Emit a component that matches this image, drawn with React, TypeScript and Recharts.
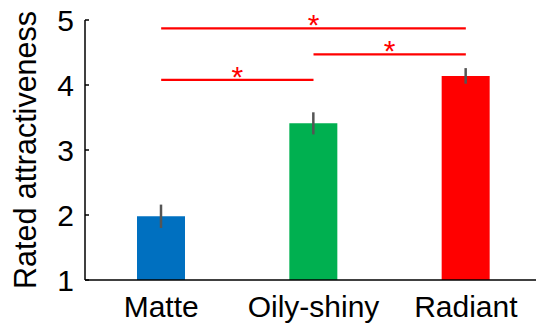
import { BarChart, Bar, XAxis, YAxis, Cell, ErrorBar, ReferenceLine } from 'recharts'

// Rated attractiveness per skin type, MATLAB-style bar plot
const categories = ['Matte', 'Oily-shiny', 'Radiant']
const means = [1.98, 3.41, 4.14]
const errors = [0.18, 0.17, 0.12]
const colors = ['#0070c0', '#00b050', '#ff0000']
const yTicks = [1, 2, 3, 4, 5]

// significance brackets: [from, to, height]
const brackets: Array<[string, string, number]> = [
  ['Matte', 'Radiant', 4.87],
  ['Oily-shiny', 'Radiant', 4.47],
  ['Matte', 'Oily-shiny', 4.08],
]

const data = categories.map((name, i) => ({ name, mean: means[i], err: errors[i] }))

const FONT = '"Liberation Sans", Arial, Helvetica, sans-serif'

export default function App() {
  return (
    <div style={{ position: 'absolute', left: 0, top: 0, width: 536, height: 326, overflow: 'hidden', background: '#fff' }}>
      <BarChart width={542} height={326} data={data} margin={{ top: 20, right: 0, bottom: 0, left: 0 }}>
        <XAxis
          dataKey="name"
          height={46}
          tickLine={false}
          tickSize={0}
          tickMargin={16}
          axisLine={{ stroke: '#000', strokeWidth: 1.5 }}
          tick={{ fill: '#000', fontSize: 30, fontFamily: FONT }}
        />
        <YAxis
          type="number"
          domain={[1, 5]}
          ticks={yTicks}
          width={85}
          tickSize={-4}
          tickMargin={15}
          axisLine={{ stroke: '#000', strokeWidth: 1.5 }}
          tickLine={{ stroke: '#000', strokeWidth: 1.5 }}
          tick={{ fill: '#000', fontSize: 30, fontFamily: FONT }}
          label={{
            value: 'Rated attractiveness',
            angle: -90,
            position: 'insideLeft',
            offset: 25,
            fill: '#000',
            fontSize: 30.5,
            fontFamily: FONT,
            style: { textAnchor: 'middle' },
          }}
        />
        <Bar dataKey="mean" barSize={48} isAnimationActive={false}>
          {data.map((d, i) => (
            <Cell key={d.name} fill={colors[i]} />
          ))}
          <ErrorBar dataKey="err" direction="y" width={0} stroke="#555" strokeWidth={2.5} />
        </Bar>
        {brackets.map(([a, b, h]) => (
          <ReferenceLine
            key={a + b}
            segment={[{ x: a, y: h }, { x: b, y: h }]}
            stroke="#ff0000"
            strokeWidth={2.2}
            ifOverflow="visible"
            label={{ value: '*', position: 'top', offset: -7, fill: '#ff0000', fontSize: 30, fontFamily: FONT }}
          />
        ))}
      </BarChart>
    </div>
  )
}
